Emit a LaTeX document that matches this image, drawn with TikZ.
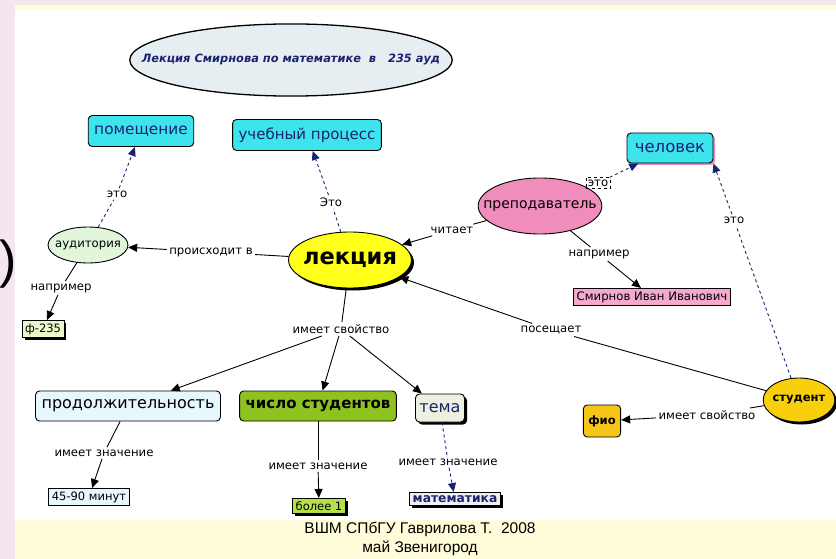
\documentclass[tikz,border=0pt]{standalone}
\usepackage{fontspec}
\setmainfont{DejaVu Sans}
\newfontfamily\arialfont{Liberation Sans}
\usetikzlibrary{arrows.meta,shapes.geometric,shadows}

\definecolor{bgpink}{HTML}{F3E6EE}
\definecolor{bgyellow}{HTML}{FFFCDA}
\definecolor{navy}{HTML}{1A2370}
\definecolor{aqua}{HTML}{3DE4EC}
\definecolor{titlefill}{HTML}{E6EEF2}
\definecolor{audfill}{HTML}{E2F6DC}
\definecolor{lekfill}{HTML}{FFFF1A}
\definecolor{prefill}{HTML}{F18DBD}
\definecolor{smirfill}{HTML}{F6A9CF}
\definecolor{ffill}{HTML}{E8F8C8}
\definecolor{prodfill}{HTML}{E6F8FC}
\definecolor{chisfill}{HTML}{8DC21F}
\definecolor{temafill}{HTML}{EEF0E0}
\definecolor{studfill}{HTML}{F7CF0A}
\definecolor{fiofill}{HTML}{F5C518}
\definecolor{bolfill}{HTML}{B5E04A}
\definecolor{matfill}{HTML}{EEF0F4}

\tikzset{
  cbox/.style = {draw, rounded corners=4pt, fill=aqua, text=navy, minimum height=31, inner xsep=6, font=\fontsize{15.3}{17}\selectfont},
  rbox/.style = {draw, rounded corners=4pt, minimum height=30, inner xsep=6},
  sbox/.style = {draw, inner sep=3pt, font=\fontsize{11.5}{13}\selectfont},
  oval/.style = {draw, ellipse, inner ysep=1pt},
  blk/.style = {drop shadow={shadow xshift=2.5pt, shadow yshift=-2.5pt, fill=black, opacity=1}},
  lab/.style = {inner sep=2pt, font=\fontsize{11.7}{13}\selectfont},
  arr/.style = {-{Triangle[length=9pt,width=8pt]}},
  dsh/.style = {dashed, navy, arr}
}

\begin{document}
\begin{tikzpicture}[x=1pt, y=-1pt, line width=0.9pt]
\fill[bgpink] (0,0) rectangle (836,559);
\fill[bgyellow] (15,5) rectangle (836,10);
\fill[white] (15,10) rectangle (836,520);
\fill[bgyellow] (15,520) rectangle (836,559);
\useasboundingbox (0,0) rectangle (836,559);

\node[font=\arialfont\fontsize{52}{52}\selectfont] (par) at (8,264) {)};

\node[draw, ellipse, inner sep=0pt, fill=titlefill, line width=1.3pt, text=navy, font=\bfseries\itshape\fontsize{11.4}{13}\selectfont] (title) at (291,60) {\makebox[228pt]{\rule[-23pt]{0pt}{51pt}Лекция Смирнова по математике \ в \ \ 235 ауд}};

\node[cbox] (pom) at (141,131) {помещение};
\node[cbox, font=\fontsize{15}{17}\selectfont] (uch) at (307,135) {учебный процесс};
\node[oval, inner xsep=-5pt, fill=audfill, minimum width=80, minimum height=36, font=\fontsize{11.7}{13}\selectfont] (aud) at (88,245) {аудитория};
\node[oval, inner xsep=-3.5pt, blk, fill=lekfill, minimum width=120, minimum height=56, font=\bfseries\fontsize{22.5}{24}\selectfont] (lek) at (350,260) {лекция};
\node[oval, inner xsep=-13pt, fill=prefill, minimum width=122, minimum height=56, font=\fontsize{14}{16}\selectfont] (pre) at (540,206) {преподаватель};
\node[cbox, minimum width=86, minimum height=30, font=\fontsize{16.5}{18}\selectfont, drop shadow={shadow xshift=2pt, shadow yshift=-2pt, fill=prefill, opacity=1}] (chel) at (670,148) {человек};
\node[sbox, fill=smirfill, font=\fontsize{11.7}{13}\selectfont] (smir) at (652,297) {Смирнов Иван Иванович};
\node[sbox, blk, fill=ffill] (f235) at (43,329) {ф-235};

\node[rbox, fill=prodfill, font=\fontsize{16}{18}\selectfont] (prod) at (128,406) {продолжительность};
\node[rbox, fill=chisfill, font=\bfseries\fontsize{15}{17}\selectfont] (chis) at (318,406) {число студентов};
\node[rbox, blk, fill=temafill, text=navy, font=\fontsize{16}{18}\selectfont, minimum height=28, inner xsep=4] (tema) at (440,408) {тема};
\node[oval, inner xsep=-1pt, blk, fill=studfill, minimum width=68, minimum height=44, font=\bfseries\fontsize{11.5}{13}\selectfont] (stud) at (799,400) {студент};
\node[rbox, fill=fiofill, minimum height=32, inner xsep=5, font=\bfseries\fontsize{11.5}{13}\selectfont] (fio) at (602,421) {фио};

\node[sbox, fill=prodfill] (m4590) at (89,497) {45-90 минут};
\node[sbox, blk, fill=bolfill] (bol) at (319,506) {более 1};
\node[sbox, blk, fill=matfill, text=navy, font=\bfseries\fontsize{12.3}{14}\selectfont] (mat) at (455,499) {математика};

\node[lab] (l1) at (117,194) {это};
\node[lab] (l2) at (331,202) {Это};
\node[lab] (l3) at (211,252) {происходит в};
\node[lab] (l4) at (452,230) {читает};
\node[lab, draw, dashed, line width=0.6pt] (l5) at (598,183) {это};
\node[lab] (l6) at (599,254) {например};
\node[lab] (l7) at (734,220) {это};
\node[lab] (l8) at (551,330) {посещает};
\node[lab] (l9) at (707,415) {имеет свойство};
\node[lab] (l10) at (61,288) {например};
\node[lab] (l11) at (341,329) {имеет свойство};
\node[lab] (l12) at (104,453) {имеет значение};
\node[lab] (l13) at (318,466) {имеет значение};
\node[lab] (l14) at (448,462) {имеет значение};

\node[font=\arialfont\fontsize{15.5}{18.5}\selectfont, align=center] (foot) at (420,539) {ВШМ СПбГУ Гаврилова Т.\ \ 2008\\май Звенигород};

\draw[dashed, navy] (aud) -- (l1);
\draw[dsh] (l1) -- (pom);
\draw[dashed, navy] (lek) -- (l2);
\draw[dsh] (l2) -- (uch);
\draw (lek) -- (l3);
\draw[arr] (l3) -- (aud);
\draw (pre) -- (l4);
\draw[arr] (l4) -- (lek);
\draw[dashed, navy] (pre) -- (l5);
\draw[dsh] (l5) -- (chel);
\draw (pre) -- (l6);
\draw[arr] (l6) -- (smir);
\draw[dashed, navy] (stud) -- (l7);
\draw[dsh] (l7) -- (chel.south east);
\draw (stud) -- (l8);
\draw[arr] (l8) -- (lek);
\draw (stud) -- (l9);
\draw[arr] (l9) -- (fio);
\draw (aud) -- (l10);
\draw[arr] (l10) -- (f235);
\draw (lek) -- (l11);
\draw[arr] (l11) -- (prod);
\draw[arr] (l11) -- (chis);
\draw[arr] (l11) -- (tema);
\draw (prod) -- (l12);
\draw[arr] (l12) -- (m4590);
\draw (chis) -- (l13);
\draw[arr] (l13) -- (bol);
\draw[dashed, navy] (tema) -- (l14);
\draw[dsh] (l14) -- (mat);
\end{tikzpicture}
\end{document}
